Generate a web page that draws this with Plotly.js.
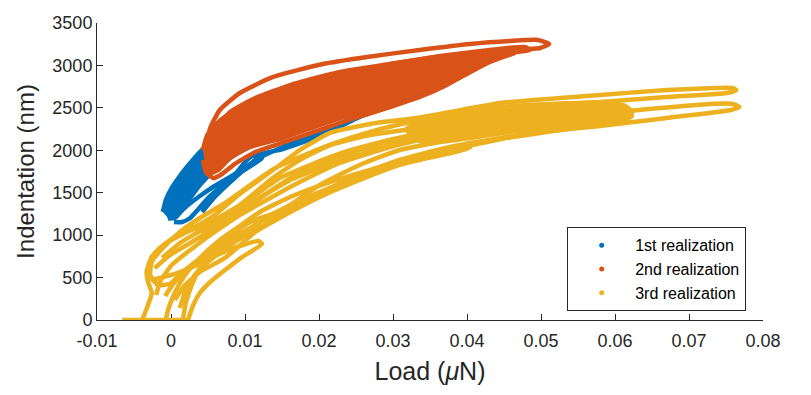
<!DOCTYPE html>
<html>
<head>
<meta charset="utf-8">
<script src="https://cdn.plot.ly/plotly-3.0.1.min.js"></script>
<style>
  body { margin: 0; background: #fff; }
  #plot_window_indent { width: 811px; height: 395px; }
</style>
</head>
<body>
<div id="plot_window_indent"></div>
<script>
// values: load in uN, indentation depth in nm

// 1st realization
const blue_core_load = [-0.0011, -0.0007, 0.0001, 0.0012, 0.0026, 0.0039, 0.0055, 0.0086, 0.0134, 0.0188, 0.0255, 0.0309, 0.0357, 0.0359, 0.0309, 0.0242, 0.0174, 0.0120, 0.0086, 0.0059, 0.0039, 0.0026, 0.0015, 0.0005, -0.0004];
const blue_core_depth = [1273, 1414, 1556, 1697, 1850, 1980, 2098, 2216, 2357, 2498, 2640, 2734, 2828, 2781, 2640, 2451, 2263, 2098, 1945, 1768, 1591, 1438, 1296, 1202, 1202];
const blue_low_load = [-0.0004, 0.0009, 0.0023, 0.0039, 0.0059, 0.0082, 0.0107, 0.0123, 0.0114, 0.0093, 0.0069, 0.0050, 0.0036, 0.0026, 0.0015, 0.0004];
const blue_low_depth = [1190, 1249, 1355, 1461, 1579, 1697, 1827, 1909, 1850, 1732, 1579, 1438, 1296, 1202, 1155, 1155];
const blue_edge_load = [0.0039, 0.0059, 0.0086, 0.0107, 0.0151, 0.0197, 0.0219, 0.0255, 0.0309, 0.0359, 0.0343, 0.0296, 0.0249, 0.0201, 0.0154, 0.0114, 0.0086, 0.0059, 0.0042];
const blue_edge_depth = [1320, 1497, 1709, 1921, 2015, 2157, 2239, 2392, 2569, 2722, 2687, 2546, 2392, 2216, 2051, 1886, 1673, 1450, 1273];

// 2nd realization
const red_core_load = [0.0043, 0.0049, 0.0064, 0.0086, 0.0120, 0.0174, 0.0242, 0.0309, 0.0377, 0.0445, 0.0472, 0.0461, 0.0435, 0.0404, 0.0386, 0.0359, 0.0323, 0.0286, 0.0242, 0.0197, 0.0151, 0.0107, 0.0080, 0.0064, 0.0053, 0.0046];
const red_core_depth = [2003, 2180, 2333, 2475, 2616, 2769, 2899, 3005, 3100, 3182, 3205, 3147, 3088, 2970, 2864, 2758, 2640, 2522, 2416, 2286, 2145, 2039, 1909, 1768, 1732, 1827];
const red_top_load = [0.0046, 0.0053, 0.0066, 0.0093, 0.0138, 0.0205, 0.0265, 0.0336, 0.0404, 0.0458, 0.0496, 0.0511, 0.0499, 0.0458, 0.0404, 0.0350, 0.0296];
const red_top_depth = [2003, 2263, 2475, 2675, 2864, 3017, 3100, 3182, 3253, 3288, 3300, 3253, 3205, 3182, 3147, 3088, 3017];
const red_mid_load = [0.0055, 0.0080, 0.0114, 0.0161, 0.0228, 0.0296, 0.0364, 0.0431, 0.0478, 0.0485, 0.0445, 0.0391];
const red_mid_depth = [2180, 2451, 2616, 2769, 2923, 3017, 3111, 3182, 3217, 3182, 3135, 3064];
const red_low_load = [0.0043, 0.0047, 0.0057, 0.0069, 0.0086, 0.0114, 0.0154, 0.0201, 0.0249, 0.0296, 0.0336, 0.0370, 0.0397, 0.0431, 0.0465];
const red_low_depth = [1886, 1744, 1673, 1721, 1838, 1980, 2098, 2239, 2381, 2510, 2628, 2758, 2887, 3041, 3147];

// 3rd realization
const yel_flat_load = [-0.0066, -0.0045, -0.0020, 0.0000, 0.0023];
const yel_flat_depth = [0, 0, 0, 0, 0];
const yel_a_load = [-0.0039, -0.0031, -0.0026, -0.0031, -0.0033, -0.0028, -0.0018, 0.0005, 0.0032, 0.0059, 0.0093, 0.0123, 0.0147, 0.0174, 0.0215, 0.0269, 0.0332, 0.0377, 0.0445, 0.0526, 0.0580, 0.0670, 0.0735, 0.0759, 0.0764, 0.0751, 0.0670, 0.0580, 0.0526, 0.0445, 0.0377, 0.0323, 0.0269, 0.0222, 0.0181, 0.0141, 0.0107, 0.0073, 0.0039, 0.0012, -0.0011, -0.0026, -0.0028, -0.0018, -0.0001];
const yel_a_depth = [0, 177, 318, 448, 566, 707, 825, 978, 1096, 1237, 1485, 1673, 1827, 2003, 2204, 2310, 2381, 2451, 2557, 2616, 2652, 2711, 2734, 2734, 2711, 2675, 2628, 2569, 2546, 2498, 2428, 2333, 2216, 2086, 1945, 1791, 1591, 1379, 1202, 1037, 849, 684, 530, 412, 424];
const yel_b_load = [-0.0001, 0.0019, 0.0046, 0.0080, 0.0120, 0.0161, 0.0201, 0.0255, 0.0309, 0.0377, 0.0458, 0.0526, 0.0593, 0.0661, 0.0728, 0.0759, 0.0768, 0.0757, 0.0670, 0.0580, 0.0489, 0.0395, 0.0309, 0.0219, 0.0174, 0.0141, 0.0107, 0.0080, 0.0055, 0.0039, 0.0028, 0.0020, 0.0016];
const yel_b_depth = [424, 589, 766, 943, 1155, 1355, 1591, 1827, 2003, 2121, 2263, 2357, 2439, 2498, 2546, 2546, 2510, 2475, 2381, 2286, 2204, 2039, 1850, 1567, 1379, 1261, 1155, 990, 801, 613, 412, 200, 0];
const yel_c_load = [-0.0008, 0.0005, 0.0032, 0.0066, 0.0107, 0.0154, 0.0201, 0.0255, 0.0309, 0.0377, 0.0445, 0.0526, 0.0593, 0.0623, 0.0614, 0.0553, 0.0472, 0.0404, 0.0336, 0.0269, 0.0215, 0.0161, 0.0120, 0.0093, 0.0066, 0.0039, 0.0019, 0.0005, -0.0004, -0.0007];
const yel_c_depth = [283, 448, 648, 825, 1025, 1273, 1497, 1709, 1886, 2039, 2145, 2263, 2357, 2404, 2357, 2275, 2168, 2086, 1945, 1768, 1626, 1450, 1273, 1108, 943, 731, 530, 318, 118, 0];
const yel_d_load = [0.0023, 0.0030, 0.0039, 0.0053, 0.0073, 0.0096, 0.0123, 0.0118, 0.0093, 0.0059, 0.0032, 0.0009, -0.0015, -0.0028];
const yel_d_depth = [0, 177, 318, 448, 589, 742, 896, 931, 872, 754, 636, 554, 495, 471];
const yel_e_load = [0.0039, 0.0073, 0.0114, 0.0154, 0.0201, 0.0255, 0.0309, 0.0364, 0.0418, 0.0350, 0.0296, 0.0242, 0.0188, 0.0147, 0.0107];
const yel_e_depth = [1037, 1202, 1414, 1615, 1827, 2003, 2121, 2216, 2286, 2168, 2051, 1909, 1744, 1591, 1355];
const yel_f_load = [-0.0022, -0.0001, 0.0026, 0.0059, 0.0100, 0.0141, 0.0174, 0.0228, 0.0296, 0.0377, 0.0458, 0.0526, 0.0546, 0.0532, 0.0458, 0.0377, 0.0296, 0.0228, 0.0174, 0.0134, 0.0093, 0.0059, 0.0026, 0.0001, -0.0015, -0.0020];
const yel_f_depth = [613, 766, 907, 1084, 1320, 1556, 1744, 1945, 2121, 2263, 2357, 2428, 2439, 2392, 2310, 2204, 2039, 1850, 1626, 1438, 1237, 1037, 825, 648, 448, 295];
const yel_g_load = [-0.0028, -0.0008, 0.0019, 0.0053, 0.0093, 0.0134, 0.0174, 0.0215, 0.0269, 0.0336, 0.0404, 0.0445, 0.0431, 0.0364, 0.0296, 0.0235, 0.0188, 0.0147, 0.0114, 0.0080, 0.0046, 0.0012, -0.0012];
const yel_g_depth = [731, 896, 1025, 1155, 1355, 1650, 1886, 2062, 2180, 2263, 2333, 2369, 2322, 2239, 2121, 1980, 1827, 1673, 1473, 1273, 1084, 907, 731];
const yel_h_load = [0.0005, 0.0019, 0.0039, 0.0073, 0.0114, 0.0154, 0.0201, 0.0255, 0.0309, 0.0364, 0.0404, 0.0384, 0.0323, 0.0269, 0.0215, 0.0168, 0.0127, 0.0086, 0.0053, 0.0032, 0.0019, 0.0012];
const yel_h_depth = [236, 412, 566, 731, 1037, 1237, 1450, 1650, 1827, 1968, 2027, 1980, 1862, 1721, 1556, 1379, 1202, 919, 707, 530, 330, 141];
const yel_core_load = [0.0316, 0.0336, 0.0377, 0.0445, 0.0512, 0.0566, 0.0614, 0.0623, 0.0618, 0.0566, 0.0512, 0.0458, 0.0404, 0.0364, 0.0336, 0.0320];
const yel_core_depth = [2239, 2357, 2439, 2510, 2546, 2557, 2522, 2451, 2381, 2333, 2275, 2216, 2145, 2098, 2110, 2168];

const series_names = ["1st realization", "2nd realization", "3rd realization"];
const series_colors = ["#0072BD", "#D95319", "#EDB120"];

const load_ticks = [-0.01, 0, 0.01, 0.02, 0.03, 0.04, 0.05, 0.06, 0.07, 0.08];
const load_tick_text = ["-0.01", "0", "0.01", "0.02", "0.03", "0.04", "0.05", "0.06", "0.07", "0.08"];
const depth_ticks = [0, 500, 1000, 1500, 2000, 2500, 3000, 3500];

const axis_color = '#262626';
const font_family = '"Liberation Sans", Arial, Helvetica, sans-serif';

function make_trace(load, depth, idx, filled){
    return {
        x: load,
        y: depth,
        type: 'scatter',
        mode: 'lines',
        line: {color: series_colors[idx], width: 4.5, shape: 'spline', smoothing: 0.5},
        fill: filled ? 'toself' : 'none',
        fillcolor: series_colors[idx],
        legendgroup: 'r' + idx,
        showlegend: false,
        hoverinfo: 'skip'
    };
}

function legend_trace(idx){
    // empty trace, only gives the dot in the legend
    return {
        x: [null],
        y: [null],
        type: 'scatter',
        mode: 'markers',
        marker: {color: series_colors[idx], size: 5},
        name: series_names[idx],
        legendgroup: 'r' + idx,
        showlegend: true
    };
}

const data = [
    make_trace(blue_core_load, blue_core_depth, 0, true),
    make_trace(blue_low_load, blue_low_depth, 0, false),
    make_trace(blue_edge_load, blue_edge_depth, 0, false),
    make_trace(red_core_load, red_core_depth, 1, true),
    make_trace(red_top_load, red_top_depth, 1, false),
    make_trace(red_mid_load, red_mid_depth, 1, false),
    make_trace(red_low_load, red_low_depth, 1, false),
    make_trace(yel_flat_load, yel_flat_depth, 2, false),
    make_trace(yel_a_load, yel_a_depth, 2, false),
    make_trace(yel_b_load, yel_b_depth, 2, false),
    make_trace(yel_c_load, yel_c_depth, 2, false),
    make_trace(yel_d_load, yel_d_depth, 2, false),
    make_trace(yel_e_load, yel_e_depth, 2, false),
    make_trace(yel_f_load, yel_f_depth, 2, false),
    make_trace(yel_g_load, yel_g_depth, 2, false),
    make_trace(yel_h_load, yel_h_depth, 2, false),
    make_trace(yel_core_load, yel_core_depth, 2, true),
    legend_trace(0),
    legend_trace(1),
    legend_trace(2)
];

const layout = {
    width: 811,
    height: 395,
    margin: {l: 97, r: 48, t: 23, b: 75},
    paper_bgcolor: '#ffffff',
    plot_bgcolor: '#ffffff',
    font: {family: font_family, color: axis_color},
    xaxis: {
        range: [-0.01, 0.08],
        tickvals: load_ticks,
        ticktext: load_tick_text,
        ticks: 'inside',
        ticklen: 6,
        tickcolor: axis_color,
        ticklabelstandoff: 4,
        showline: true,
        linecolor: axis_color,
        linewidth: 1,
        showgrid: false,
        zeroline: false,
        layer: 'below traces',
        tickfont: {size: 18, color: axis_color},
        title: {text: 'Load (<i>μ</i>N)', font: {size: 25, color: axis_color}, standoff: 12}
    },
    yaxis: {
        range: [0, 3500],
        tickvals: depth_ticks,
        ticks: 'inside',
        ticklen: 6,
        tickcolor: axis_color,
        showline: true,
        linecolor: axis_color,
        linewidth: 1,
        showgrid: false,
        zeroline: false,
        layer: 'below traces',
        tickfont: {size: 18, color: axis_color},
        title: {text: 'Indentation (nm)', font: {size: 24, color: axis_color}, standoff: 10}
    },
    showlegend: true,
    legend: {
        x: 0.706,
        y: 0.312,
        xanchor: 'left',
        yanchor: 'top',
        bgcolor: '#ffffff',
        bordercolor: axis_color,
        borderwidth: 1,
        itemwidth: 57,
        tracegroupgap: 0,
        font: {size: 16, color: '#000000'}
    }
};

Plotly.newPlot('plot_window_indent', data, layout, {staticPlot: true});
</script>
</body>
</html>
